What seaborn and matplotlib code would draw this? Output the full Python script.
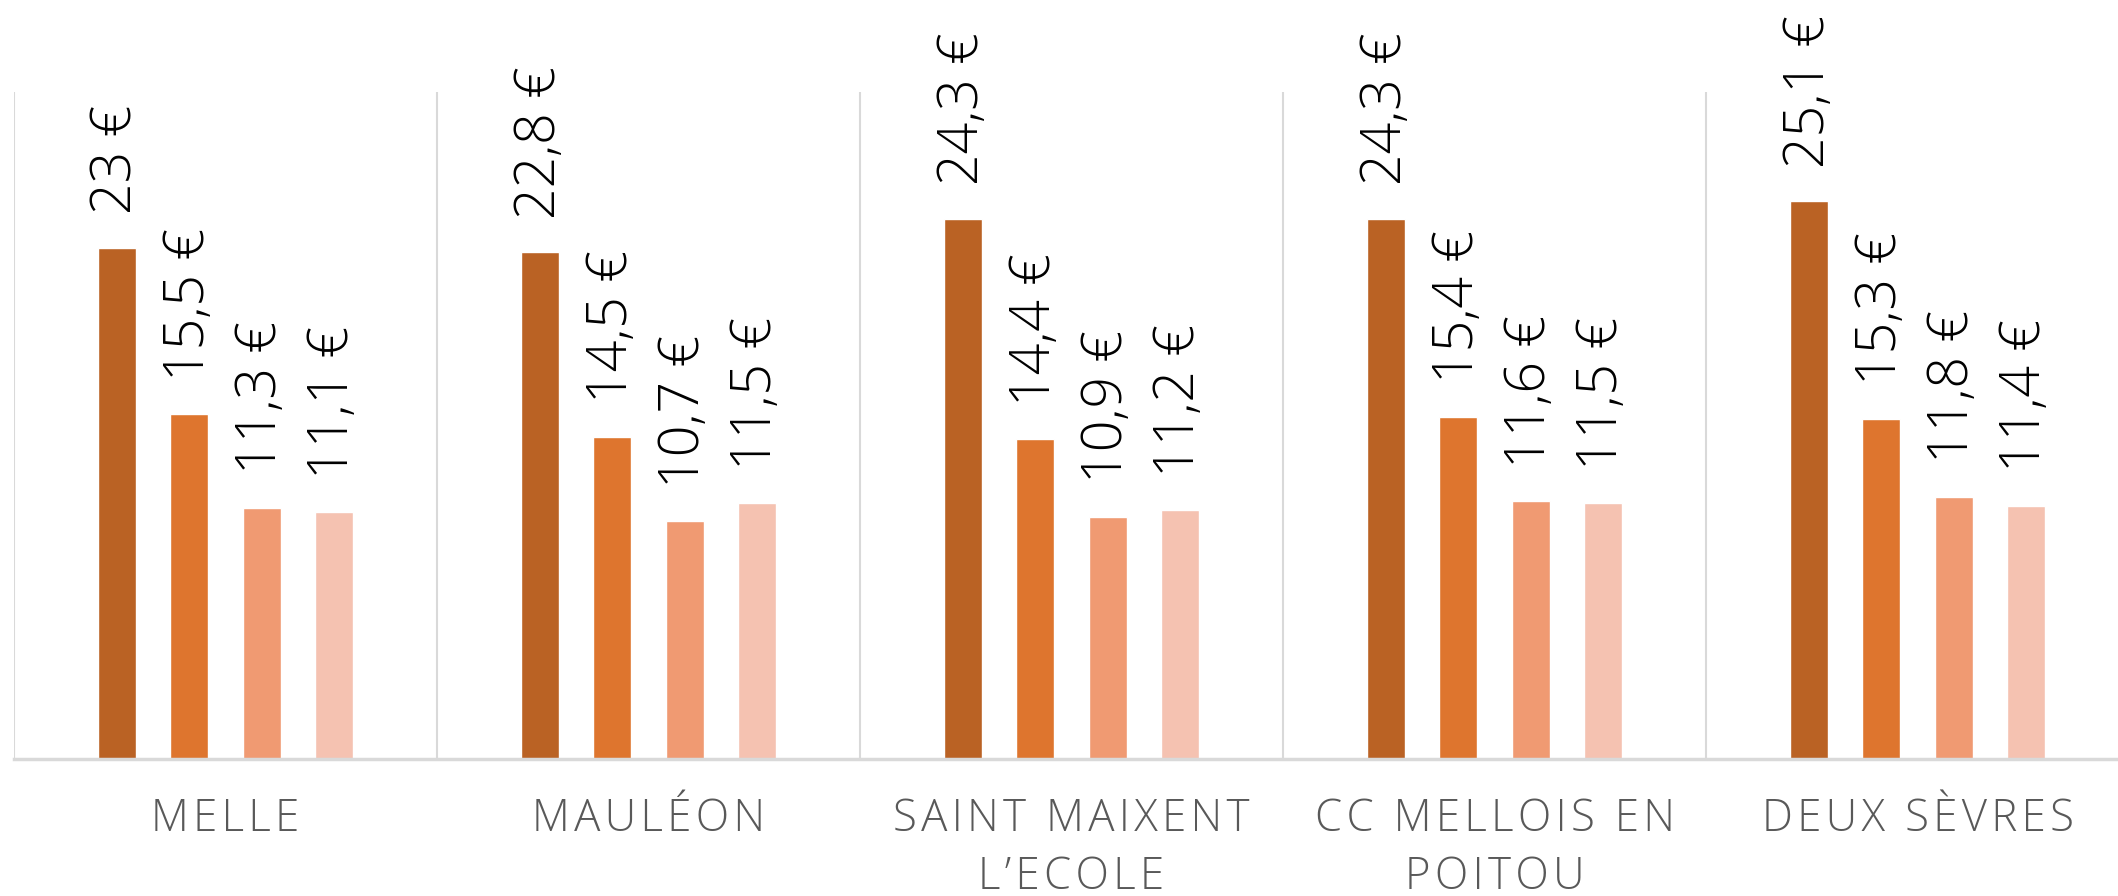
import pandas as pd
import matplotlib.pyplot as plt
import seaborn as sns

# Data
communes = ["MELLE", "MAULÉON", "SAINT MAIXENT\nL’ECOLE", "CC MELLOIS EN\nPOITOU", "DEUX SÈVRES"]
series = ["Série 1", "Série 2", "Série 3", "Série 4"]
serie_1 = [23.0, 22.8, 24.3, 24.3, 25.1]
serie_2 = [15.5, 14.5, 14.4, 15.4, 15.3]
serie_3 = [11.3, 10.7, 10.9, 11.6, 11.8]
serie_4 = [11.1, 11.5, 11.2, 11.5, 11.4]
colors = ["#BA6224", "#DE752E", "#F09A72", "#F5C2B1"]

rows = []
for name, vals in zip(series, [serie_1, serie_2, serie_3, serie_4]):
    for c, v in zip(communes, vals):
        rows.append({"Commune": c, "Série": name, "Valeur": v})
df = pd.DataFrame(rows)

sns.set_style("white")
plt.rcParams['font.family'] = ['Open Sans', 'DejaVu Sans']

fig = plt.figure(figsize=(21.18, 8.96), dpi=100)
ax = fig.add_axes([14 / 2118, 137 / 896, 2115 / 2118, 667 / 896])

sns.barplot(data=df, x="Commune", y="Valeur", hue="Série", order=communes,
            hue_order=series, palette=colors, saturation=1,
            width=0.684, gap=0.474, legend=False, ax=ax)

ax.set_ylim(0, 30)
ax.set_xlim(-0.5, len(communes) - 0.5)

#Separators between groups
for i in range(len(communes) + 1):
    ax.axvline(i - 0.5, color="#D9D9D9", lw=1.5, zorder=0)

for s in ["top", "right", "left"]:
    ax.spines[s].set_visible(False)
ax.spines["bottom"].set_color("#D9D9D9")
ax.spines["bottom"].set_linewidth(2.5)

#Spaced out category labels
def spaced(label):
    return "\n".join("\u200a".join(line) for line in label.split("\n"))

ax.set_yticks([])
ax.set_xlabel("")
ax.set_ylabel("")
ax.tick_params(axis="x", length=0, pad=28)
ax.set_xticks(range(len(communes)))
ax.set_xticklabels([spaced(c) for c in communes], fontsize=31.5, color="#595959",
                   fontweight="light", linespacing=1.38)

#Value labels
for container in ax.containers:
    for bar in container:
        h = bar.get_height()
        txt = f"{h:g}".replace(".", ",") + " €"
        ax.annotate(txt, (bar.get_x() + bar.get_width() / 2, h),
                    xytext=(0, 24), textcoords="offset points",
                    rotation=90, ha="center", va="bottom",
                    fontsize=40, fontweight="light", color="black")

plt.savefig("out.png", dpi=100)
